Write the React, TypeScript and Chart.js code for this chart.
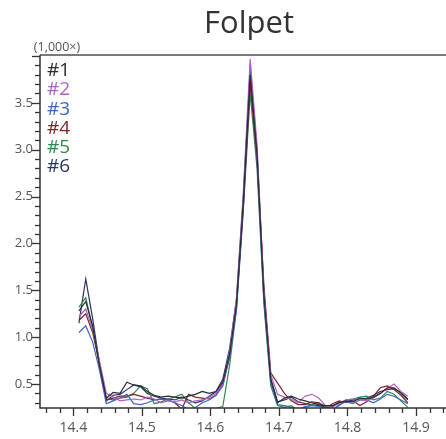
import React, { useEffect, useRef } from "react";
import { Chart, registerables } from "chart.js";

Chart.register(...registerables);

const TITLE = "Folpet";
const Y_UNIT = "(1,000×)";

const SERIES_NAMES = ["#1", "#2", "#3", "#4", "#5", "#6"];
const SERIES_COLORS = ["#2a2a30", "#b25fc4", "#3c64c4", "#7c2428", "#2f8a4c", "#2b3563"];

// retention time (min)
const RT = [
  14.408, 14.418, 14.428, 14.438, 14.448, 14.458, 14.468, 14.478, 14.488, 14.498,
  14.508, 14.518, 14.528, 14.538, 14.548, 14.558, 14.568, 14.578, 14.588, 14.598,
  14.608, 14.618, 14.628, 14.638, 14.648, 14.658, 14.668, 14.678, 14.688, 14.698,
  14.708, 14.718, 14.728, 14.738, 14.748, 14.758, 14.768, 14.778, 14.788, 14.798,
  14.808, 14.818, 14.828, 14.838, 14.848, 14.858, 14.868, 14.878, 14.888,
];

// intensities in units of 1,000
const S1 = [
  1.28, 1.38, 1.12, 0.70, 0.35, 0.41, 0.40, 0.52, 0.49, 0.48,
  0.42, 0.38, 0.36, 0.37, 0.36, 0.35, 0.37, 0.39, 0.42, 0.40,
  0.42, 0.52, 0.82, 1.35, 2.45, 3.80, 2.95, 1.45, 0.55, 0.30,
  0.35, 0.37, 0.34, 0.32, 0.30, 0.28, 0.27, 0.27, 0.30, 0.32,
  0.31, 0.35, 0.34, 0.36, 0.40, 0.46, 0.46, 0.40, 0.33,
];
const S2 = [
  1.22, 1.30, 1.08, 0.75, 0.40, 0.36, 0.32, 0.33, 0.34, 0.33,
  0.36, 0.34, 0.30, 0.32, 0.31, 0.33, 0.30, 0.32, 0.33, 0.36,
  0.40, 0.50, 0.85, 1.42, 2.55, 3.97, 3.05, 1.50, 0.60, 0.39,
  0.36, 0.34, 0.30, 0.37, 0.39, 0.35, 0.27, 0.25, 0.30, 0.33,
  0.34, 0.33, 0.32, 0.35, 0.40, 0.45, 0.50, 0.42, 0.37,
];
const S3 = [
  1.05, 1.12, 0.95, 0.65, 0.29, 0.32, 0.35, 0.39, 0.29, 0.28,
  0.30, 0.33, 0.34, 0.33, 0.30, 0.27, 0.23, 0.25, 0.30, 0.33,
  0.38, 0.48, 0.78, 1.30, 2.40, 3.90, 2.90, 1.40, 0.52, 0.28,
  0.27, 0.25, 0.23, 0.26, 0.27, 0.26, 0.24, 0.22, 0.28, 0.31,
  0.29, 0.33, 0.33, 0.30, 0.34, 0.39, 0.37, 0.33, 0.29,
];
const S4 = [
  1.18, 1.25, 1.05, 0.72, 0.33, 0.35, 0.37, 0.37, 0.39, 0.37,
  0.35, 0.33, 0.34, 0.33, 0.30, 0.23, 0.39, 0.36, 0.35, 0.34,
  0.38, 0.50, 0.80, 1.36, 2.40, 3.70, 2.90, 1.55, 0.62, 0.51,
  0.40, 0.32, 0.28, 0.28, 0.31, 0.30, 0.24, 0.29, 0.32, 0.30,
  0.32, 0.27, 0.31, 0.37, 0.46, 0.48, 0.44, 0.38, 0.30,
];
const S5 = [
  1.32, 1.42, 1.10, 0.70, 0.34, 0.33, 0.35, 0.36, 0.40, 0.48,
  0.45, 0.29, 0.31, 0.34, 0.36, 0.39, 0.30, 0.24, 0.24, 0.24,
  0.24, 0.26, 0.70, 1.30, 2.35, 3.60, 2.80, 1.35, 0.48, 0.27,
  0.25, 0.27, 0.22, 0.25, 0.28, 0.30, 0.26, 0.22, 0.27, 0.33,
  0.34, 0.36, 0.37, 0.33, 0.35, 0.42, 0.39, 0.32, 0.25,
];
const S6 = [
  1.15, 1.62, 1.20, 0.72, 0.32, 0.38, 0.39, 0.44, 0.49, 0.47,
  0.40, 0.37, 0.35, 0.34, 0.33, 0.36, 0.33, 0.30, 0.32, 0.37,
  0.42, 0.55, 0.88, 1.40, 2.50, 3.85, 3.00, 1.48, 0.56, 0.31,
  0.33, 0.36, 0.31, 0.29, 0.28, 0.27, 0.25, 0.26, 0.31, 0.31,
  0.33, 0.34, 0.35, 0.38, 0.42, 0.44, 0.45, 0.41, 0.34,
];
const SERIES = [S1, S2, S3, S4, S5, S6];

const X_LABEL_TICKS = [14.4, 14.5, 14.6, 14.7, 14.8, 14.9];
const Y_LABEL_TICKS = [0.5, 1.0, 1.5, 2.0, 2.5, 3.0, 3.5];

const X_MIN = 14.3512;
const X_MAX = 14.9438;
const Y_MIN = 0.244;
const Y_MAX = 4.01;

const FONT = "'Open Sans', 'Noto Sans', sans-serif";

const decorPlugin = {
  id: "decor",
  afterDraw(chart: any) {
    const ctx = chart.ctx as CanvasRenderingContext2D;
    const { left, right, top, bottom } = chart.chartArea;
    const xs = chart.scales.x;
    const ys = chart.scales.y;
    ctx.save();

    // top frame line
    ctx.strokeStyle = "#7a7a7a";
    ctx.lineWidth = 2;
    ctx.beginPath();
    ctx.moveTo(left, top);
    ctx.lineTo(right, top);
    ctx.stroke();

    // axes
    ctx.strokeStyle = "#333";
    ctx.lineWidth = 1.5;
    ctx.beginPath();
    ctx.moveTo(left, top);
    ctx.lineTo(left, bottom);
    ctx.lineTo(right, bottom);
    ctx.stroke();

    // x ticks (minor every 0.02, major every 0.1)
    ctx.lineWidth = 1.3;
    const kx0 = Math.ceil(xs.min / 0.02 - 1e-6);
    const kx1 = Math.floor(xs.max / 0.02 + 1e-6);
    for (let k = kx0; k <= kx1; k++) {
      const px = Math.round(xs.getPixelForValue(k * 0.02)) + 0.5;
      const major = k % 5 === 0;
      ctx.beginPath();
      ctx.moveTo(px, bottom);
      ctx.lineTo(px, bottom + (major ? 8 : 5));
      ctx.stroke();
    }
    // y ticks (minor every 0.1, major every 0.5)
    const ky0 = Math.ceil(ys.min * 10 - 1e-6);
    const ky1 = Math.floor(ys.max * 10 + 1e-6);
    for (let k = ky0; k <= ky1; k++) {
      const py = Math.round(ys.getPixelForValue(k / 10)) + 0.5;
      const major = k % 5 === 0;
      ctx.beginPath();
      ctx.moveTo(left, py);
      ctx.lineTo(left - (major ? 8 : 5), py);
      ctx.stroke();
    }

    // title
    ctx.fillStyle = "#333";
    ctx.font = `31px ${FONT}`;
    ctx.textAlign = "center";
    ctx.textBaseline = "alphabetic";
    ctx.fillText(TITLE, 249, 33);

    // unit
    ctx.fillStyle = "#555";
    ctx.font = `12.5px ${FONT}`;
    ctx.fillText(Y_UNIT, 57, 51);

    // legend text
    ctx.font = `19px ${FONT}`;
    ctx.textAlign = "left";
    ctx.textBaseline = "top";
    SERIES_NAMES.forEach((n, i) => {
      ctx.fillStyle = SERIES_COLORS[i];
      ctx.fillText(n, 47, 61 + i * 19.3);
    });
    ctx.restore();
  },
};

export default function App() {
  const ref = useRef<HTMLCanvasElement | null>(null);
  useEffect(() => {
    if (!ref.current) return;
    const chart = new Chart(ref.current, {
      type: "line",
      data: {
        datasets: SERIES.map((s, i) => ({
          label: SERIES_NAMES[i],
          data: s.map((v, j) => ({ x: RT[j], y: v })),
          borderColor: SERIES_COLORS[i],
          borderWidth: 1.2,
          pointRadius: 0,
          tension: 0,
          fill: false,
        })),
      },
      options: {
        responsive: false,
        animation: false,
        devicePixelRatio: 1,
        layout: { padding: { top: 55, left: 0, right: 0, bottom: 0 } },
        plugins: { legend: { display: false }, tooltip: { enabled: false }, title: { display: false } },
        scales: {
          x: {
            type: "linear",
            min: X_MIN,
            max: X_MAX,
            afterBuildTicks: (scale: any) => {
              scale.ticks = X_LABEL_TICKS.map((v) => ({ value: v }));
            },
            afterFit: (scale: any) => {
              scale.height = 31;
            },
            grid: { display: false, drawTicks: false },
            border: { display: false },
            ticks: {
              autoSkip: false,
              maxRotation: 0,
              padding: 12,
              color: "#555",
              font: { family: FONT, size: 14 },
              callback: (v: any) => Number(v).toFixed(1),
            },
          },
          y: {
            type: "linear",
            min: Y_MIN,
            max: Y_MAX,
            afterBuildTicks: (scale: any) => {
              scale.ticks = Y_LABEL_TICKS.map((v) => ({ value: v }));
            },
            afterFit: (scale: any) => {
              scale.width = 40;
            },
            grid: { display: false, drawTicks: false },
            border: { display: false },
            ticks: {
              autoSkip: false,
              padding: 7,
              color: "#555",
              font: { family: FONT, size: 13 },
              callback: (v: any) => Number(v).toFixed(1),
            },
          },
        },
      },
      plugins: [decorPlugin],
    });
    return () => chart.destroy();
  }, []);
  return (
    <div style={{ position: "fixed", left: 0, top: 0, width: 446, height: 439, background: "#fff" }}>
      <canvas ref={ref} width={446} height={439} style={{ width: 446, height: 439, display: "block" }} />
    </div>
  );
}
